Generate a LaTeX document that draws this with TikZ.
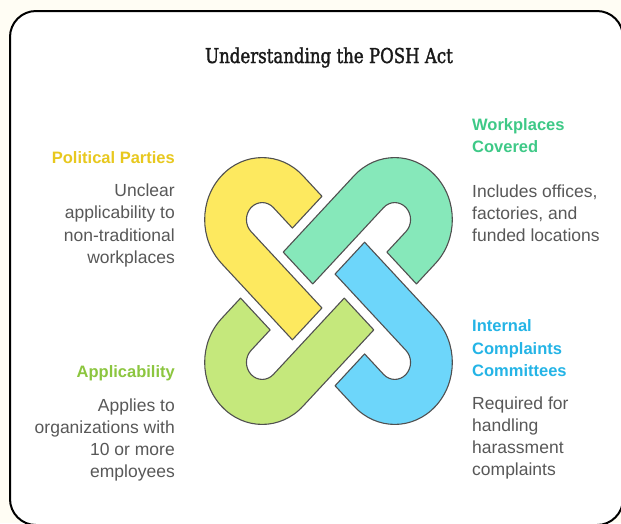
\documentclass[tikz,border=0pt]{standalone}
\usepackage{fontspec}
\setmainfont{Liberation Sans}
\newfontfamily\titlefont[FakeStretch=0.81,FakeBold=1.6]{DejaVu Serif}
\definecolor{bgcream}{RGB}{255,253,244}
\definecolor{ycol}{RGB}{253,233,95}
\definecolor{gcol}{RGB}{134,232,186}
\definecolor{bcol}{RGB}{109,214,250}
\definecolor{lcol}{RGB}{197,232,124}
\definecolor{ytext}{RGB}{232,200,30}
\definecolor{gtext}{RGB}{62,201,135}
\definecolor{btext}{RGB}{36,180,230}
\definecolor{ltext}{RGB}{140,198,63}
\definecolor{bodytext}{RGB}{88,88,88}
\definecolor{edge}{RGB}{80,80,80}
\tikzset{
  piece/.style={draw=edge, line width=1.1pt, line join=round},
  body/.style={inner sep=0pt, text=bodytext, font=\fontsize{17.5}{21}\selectfont},
  head/.style={inner sep=0pt, font=\fontsize{16.5}{20}\selectfont\bfseries},
}
\begin{document}
\begin{tikzpicture}[x=1pt,y=-1pt]
\useasboundingbox (0,0) rectangle (621,523);
\fill[bgcream] (0,0) rectangle (621,523);
\draw[line width=2pt, fill=white, rounded corners=26pt] (10,11) rectangle (623,525);

\node[inner sep=0pt, anchor=base, text=black!90, font=\titlefont\fontsize{20.5}{24}\selectfont] (title) at (329,63) {Understanding the POSH Act};

% knot
\begin{scope}[cm={0.6562,-0.7071,0.6562,0.7071,(328.5pt,-291pt)}, x=1pt, y=1pt]
\foreach \r/\c in {0/ycol, -90/gcol, 180/bcol, 90/lcol}{
  \draw[piece, fill=\c, rotate=\r] (-72,62) -- (-101,62)
     arc[start angle=90, end angle=270, radius=62] -- (7,-62) -- (7,-17) -- (-101,-17)
     arc[start angle=270, end angle=90, radius=17] -- (-72,17) -- cycle;
}
\end{scope}

% Political Parties
\node[head, text=ytext, anchor=base east] (pph) at (175,163) {Political Parties};
\foreach \t [count=\i] in {{Unclear},{applicability to},{non-traditional},{workplaces}}
  \node[body, anchor=base east] (pp\i) at (175,{196+22.6*(\i-1)}) {\t};

% Applicability
\node[head, text=ltext, anchor=base east] (aph) at (175,377) {Applicability};
\foreach \t [count=\i] in {{Applies to},{organizations with},{10 or more},{employees}}
  \node[body, anchor=base east] (ap\i) at (175,{411+22.3*(\i-1)}) {\t};

% Workplaces Covered
\node[head, text=gtext, anchor=base west] (wch1) at (472,130) {Workplaces};
\node[head, text=gtext, anchor=base west] (wch2) at (472,152) {Covered};
\foreach \t [count=\i] in {{Includes offices,},{factories, and},{funded locations}}
  \node[body, anchor=base west] (wc\i) at (472,{197+22.3*(\i-1)}) {\t};

% Internal Complaints Committees
\node[head, text=btext, anchor=base west] (ich1) at (472,331) {Internal};
\node[head, text=btext, anchor=base west] (ich2) at (472,354) {Complaints};
\node[head, text=btext, anchor=base west] (ich3) at (472,376) {Committees};
\foreach \t [count=\i] in {{Required for},{handling},{harassment},{complaints}}
  \node[body, anchor=base west] (ic\i) at (472,{409+22.3*(\i-1)}) {\t};
\end{tikzpicture}
\end{document}
